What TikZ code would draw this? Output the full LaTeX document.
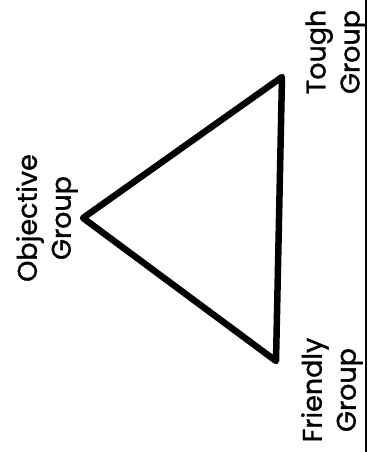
\documentclass[tikz,border=0pt]{standalone}
\usepackage{fontspec}
\newfontfamily\labfont{Poppins}[FakeBold=1.2]
\begin{document}
\begin{tikzpicture}[x=1pt,y=1pt,
  edge/.style={line width=6.5pt,line join=round,line cap=round},
  lab/.style={rotate=90,align=center,inner sep=0pt,font=\labfont\fontsize{27}{34}\selectfont}]
\useasboundingbox (0,0) rectangle (368,452);
\coordinate (L) at (83,234);
\coordinate (T) at (282,375);
\coordinate (B) at (276,91);
\draw[edge] (L) -- (T) -- (B) -- cycle;
\node[lab] (obj) at (47,234) {Objective\\Group};
\node[lab] (tough) at (336,400) {Tough\\Group};
\node[lab] (friend) at (332,62) {Friendly\\Group};
\coordinate (e1) at (366,0);
\coordinate (e2) at (366,452);
\draw[line width=1.2pt] (e1) -- (e2);
\end{tikzpicture}
\end{document}
